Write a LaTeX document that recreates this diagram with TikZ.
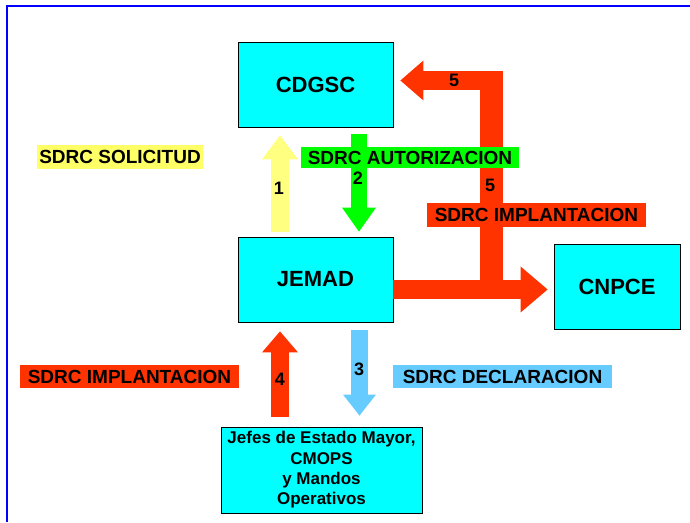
\documentclass[tikz,border=0pt]{standalone}
\usepackage{fontspec}
\setmainfont{Liberation Sans}
\usetikzlibrary{arrows.meta}
\definecolor{boxcyan}{HTML}{00FFFF}
\definecolor{frameblue}{HTML}{0000FF}
\definecolor{arrowyellow}{HTML}{FFFF80}
\definecolor{tagyellow}{HTML}{FFFF66}
\definecolor{arrowgreen}{HTML}{00FF00}
\definecolor{arrowred}{HTML}{FF3300}
\definecolor{arrowblue}{HTML}{66CCFF}
\begin{document}
\begin{tikzpicture}[x=1pt,y=1pt]
\tikzstyle{every node}+=[inner sep=0pt]
\tikzstyle{box}=[draw=black, line width=0.8pt, fill=boxcyan, minimum width=155pt, minimum height=85pt, font=\bfseries\fontsize{22}{26}\selectfont]
\tikzstyle{tag}=[font=\bfseries\fontsize{19}{22}\selectfont, minimum height=23pt]
\tikzstyle{num}=[font=\bfseries\fontsize{18}{20}\selectfont]
\useasboundingbox (0,0) rectangle (690,522);
\draw [frameblue, line width=2pt] (7,0) -- (7,515.5) -- (690,515.5);
\node [box] (cdgsc) at (315.5,437.5) {CDGSC};
\node [box] (jemad) at (315.5,242.5) {JEMAD};
\node [box, minimum width=126pt] (cnpce) at (617,235.5) {CNPCE};
\node [box, minimum width=201pt, minimum height=86pt, align=center, font=\bfseries\fontsize{17}{20.3}\selectfont] (mandos) at (321.5,52) {Jefes de Estado Mayor,\\CMOPS\\y Mandos\\Operativos};
\coordinate (corner) at (491.5,232.5);
\draw [arrowred, line width=23pt] (corner) -- (491.5,451);
\draw [arrowred, line width=19pt, -{Triangle[width=40pt,length=23pt,line width=0pt]}] (503,441.5) -- ([xshift=7pt,yshift=4pt]cdgsc.east);
\draw [arrowred, line width=19pt, -{Triangle[width=46pt,length=27pt,line width=0pt]}] (jemad.east |- corner) -- ([xshift=-6pt]cnpce.west |- corner);
\draw [arrowyellow, line width=18pt, -{Triangle[width=36pt,length=24pt,line width=0pt]}] ([xshift=-35.5pt,yshift=5pt]jemad.north) -- ([xshift=-35.5pt,yshift=-8pt]cdgsc.south);
\draw [arrowgreen, line width=16pt, -{Triangle[width=34pt,length=24pt,line width=0pt]}] ([xshift=43.5pt,yshift=-7pt]cdgsc.south) -- ([xshift=43.5pt,yshift=5pt]jemad.north);
\draw [arrowblue, line width=17pt, -{Triangle[width=33pt,length=21pt,line width=0pt]}] ([xshift=44pt,yshift=-8pt]jemad.south) -- ([xshift=38pt,yshift=11pt]mandos.north);
\draw [arrowred, line width=18pt, -{Triangle[width=36pt,length=21pt,line width=0pt]}] ([xshift=-41.5pt,yshift=10pt]mandos.north) -- ([xshift=-35.5pt,yshift=-9pt]jemad.south);
\node [tag, fill=tagyellow, minimum width=166pt, minimum height=24pt] (solicitud) at (120,365) {SDRC SOLICITUD};
\node [tag, fill=arrowgreen, minimum width=218pt, minimum height=21pt] (autorizacion) at (410,364.5) {SDRC AUTORIZACION};
\node [tag, fill=arrowred, minimum width=219pt, minimum height=24pt] (implantacionA) at (536.5,307) {SDRC IMPLANTACION};
\node [tag, fill=arrowred, minimum width=219pt] (implantacionB) at (129.5,145.5) {SDRC IMPLANTACION};
\node [tag, fill=arrowblue, minimum width=219pt] (declaracion) at (502.5,145.5) {SDRC DECLARACION};
\node [num] (n1) at (279,334) {1};
\node [num] (n2) at (358,344) {2};
\node [num] (n3) at (359,153) {3};
\node [num] (n4) at (280,143) {4};
\node [num] (n5a) at (454,442) {5};
\node [num] (n5b) at (490,337) {5};
\end{tikzpicture}
\end{document}
